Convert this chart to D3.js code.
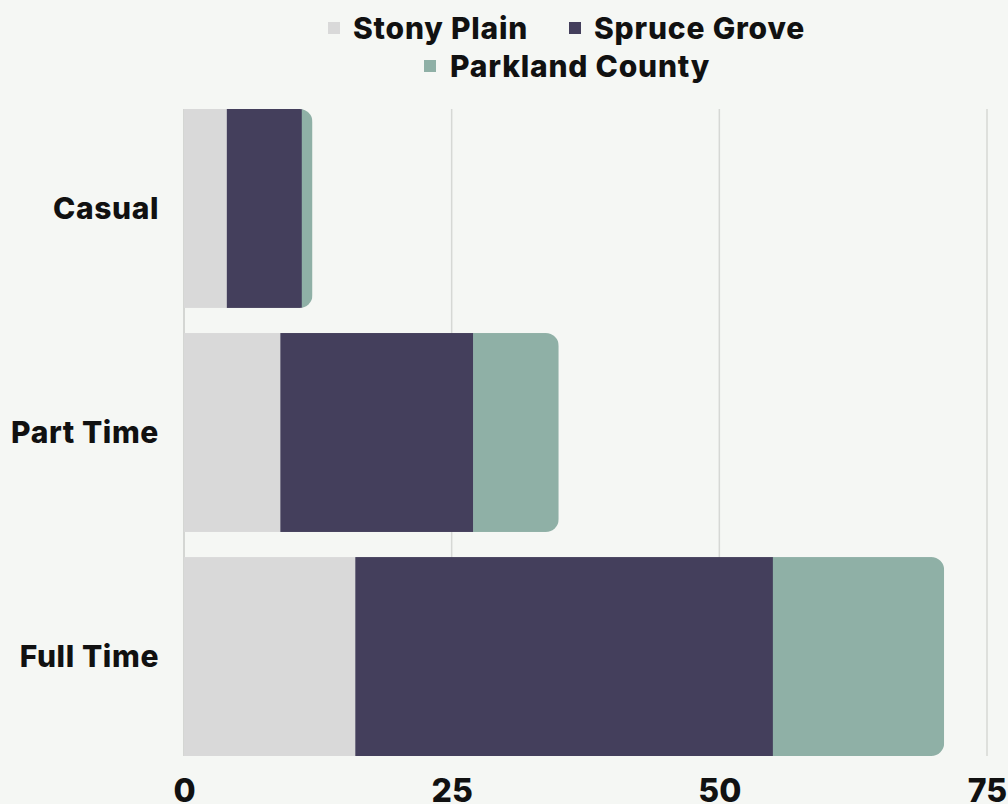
<!DOCTYPE html>
<html>
<head>
<meta charset="utf-8">
<script src="https://cdn.jsdelivr.net/npm/d3@7"></script>
<style>
  html, body { margin: 0; padding: 0; background: #f5f7f4; }
  svg { display: block; }
</style>
</head>
<body>
<svg id="chart" width="1008" height="804"></svg>
<script>
// Employment type by municipality
const categories = ["Casual", "Part Time", "Full Time"];
const seriesNames = ["Stony Plain", "Spruce Grove", "Parkland County"];
const stonyPlain = [4, 9, 16];
const spruceGrove = [7, 18, 39];
const parklandCounty = [1, 8, 16];
const xTicks = [0, 25, 50, 75];

const colors = ["#d9d9d9", "#443f5c", "#8fb0a6"];

const W = 1008, H = 804;
const margin = { left: 184, right: 21, top: 109, bottom: 48 };

const svg = d3.select("#chart");
svg.append("rect").attr("width", W).attr("height", H).attr("fill", "#f5f7f4");

const rows = categories.map((c, i) => ({
  category: c,
  "Stony Plain": stonyPlain[i],
  "Spruce Grove": spruceGrove[i],
  "Parkland County": parklandCounty[i]
}));

const stacked = d3.stack().keys(seriesNames)(rows);

const x = d3.scaleLinear().domain([0, 75]).range([margin.left, W - margin.right]);
const y = d3.scaleBand().domain(categories)
  .range([margin.top, H - margin.bottom]).paddingInner(0.112).paddingOuter(0);

// grid lines
const grid = svg.append("g");
grid.selectAll("line.grid").data(xTicks.filter(t => t > 0)).join("line")
  .attr("x1", d => x(d)).attr("x2", d => x(d))
  .attr("y1", margin.top).attr("y2", H - margin.bottom)
  .attr("stroke", "#d6d8d5").attr("stroke-width", 1.5);
// baseline axis
grid.append("line")
  .attr("x1", x(0)).attr("x2", x(0))
  .attr("y1", margin.top).attr("y2", H - margin.bottom)
  .attr("stroke", "#c9cbc8").attr("stroke-width", 1.5);

// rounded-right clip per bar
const r = 13;
const defs = svg.append("defs");
rows.forEach((row, i) => {
  const total = stonyPlain[i] + spruceGrove[i] + parklandCounty[i];
  const x0 = x(0), x1 = x(total), y0 = y(row.category), h = y.bandwidth();
  const p = d3.path();
  p.moveTo(x0, y0);
  p.lineTo(x1 - r, y0);
  p.arcTo(x1, y0, x1, y0 + r, r);
  p.lineTo(x1, y0 + h - r);
  p.arcTo(x1, y0 + h, x1 - r, y0 + h, r);
  p.lineTo(x0, y0 + h);
  p.closePath();
  defs.append("clipPath").attr("id", "clip" + i).append("path").attr("d", p.toString());
});

const barsG = svg.append("g");
rows.forEach((row, i) => {
  const g = barsG.append("g").attr("clip-path", `url(#clip${i})`);
  stacked.forEach((s, k) => {
    const d = s[i];
    g.append("rect")
      .attr("x", x(d[0]))
      .attr("width", x(d[1]) - x(d[0]) + (k < 2 ? 0.5 : 0))
      .attr("y", y(row.category))
      .attr("height", y.bandwidth())
      .attr("fill", colors[k]);
  });
});

const labelFont = "Inter, 'Open Sans', sans-serif";

// category labels
svg.append("g").selectAll("text").data(categories).join("text")
  .attr("x", 159)
  .attr("y", d => y(d) + y.bandwidth() / 2)
  .attr("dy", "0.36em")
  .attr("text-anchor", "end")
  .attr("font-family", labelFont)
  .attr("font-weight", 800)
  .attr("font-size", 30)
  .attr("letter-spacing", 0.6)
  .attr("fill", "#111")
  .text(d => d);

// x axis tick labels
const xAxis = d3.axisBottom(x).tickValues(xTicks).tickSize(0).tickPadding(0);
const ax = svg.append("g").attr("transform", `translate(0, 779)`).call(xAxis);
ax.select(".domain").remove();
ax.selectAll("text")
  .attr("font-family", labelFont)
  .attr("font-weight", 800)
  .attr("font-size", 32)
  .attr("fill", "#111")
  .attr("dy", "0.73em");

// legend
const legendItems = [
  { name: seriesNames[0], color: colors[0], sx: 328, tx: 353, base: 39 },
  { name: seriesNames[1], color: colors[1], sx: 569, tx: 594, base: 39 },
  { name: seriesNames[2], color: colors[2], sx: 424, tx: 450, base: 77 }
];
const lg = svg.append("g");
legendItems.forEach(it => {
  lg.append("rect").attr("x", it.sx).attr("y", it.base - 17).attr("width", 12).attr("height", 12)
    .attr("fill", it.color);
  lg.append("text").attr("x", it.tx).attr("y", it.base)
    .attr("font-family", labelFont).attr("font-weight", 800).attr("font-size", 30)
    .attr("letter-spacing", 0.8)
    .attr("fill", "#111").text(it.name);
});
</script>
</body>
</html>
